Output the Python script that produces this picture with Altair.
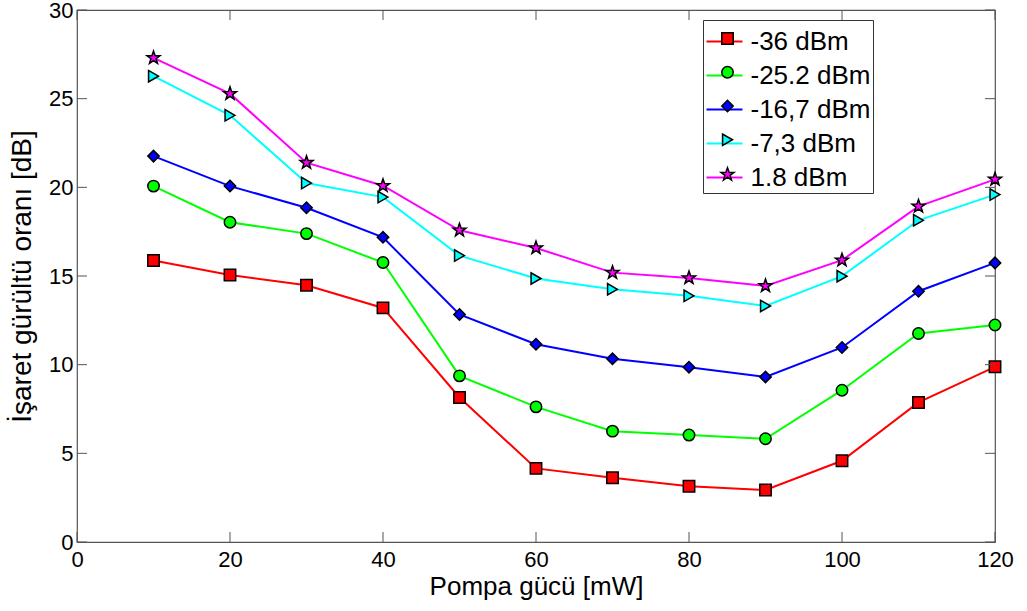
import altair as alt
import pandas as pd

# Pump power (mW) and signal-to-noise ratio (dB) for each input signal level
pump_mw = [10, 20, 30, 40, 50, 60, 70, 80, 90, 100, 110, 120]
snr_m36 = [15.87, 15.06, 14.48, 13.20, 8.15, 4.15, 3.62, 3.14, 2.93, 4.58, 7.87, 9.88]
snr_m25_2 = [20.07, 18.03, 17.39, 15.76, 9.37, 7.62, 6.25, 6.03, 5.82, 8.56, 11.76, 12.24]
snr_m16_7 = [21.76, 20.07, 18.85, 17.18, 12.83, 11.15, 10.33, 9.86, 9.31, 10.97, 14.14, 15.74]
snr_m7_3 = [26.27, 24.06, 20.24, 19.45, 16.15, 14.86, 14.25, 13.88, 13.31, 14.99, 18.14, 19.59]
snr_p1_8 = [27.30, 25.28, 21.39, 20.09, 17.58, 16.58, 15.19, 14.89, 14.44, 15.89, 18.93, 20.45]

series_labels = ["-36 dBm", "-25.2 dBm", "-16,7 dBm", "-7,3 dBm", "1.8 dBm"]
series_values = [snr_m36, snr_m25_2, snr_m16_7, snr_m7_3, snr_p1_8]
series_colors = ["#ff0000", "#00ff00", "#0000ff", "#00ffff", "#ff00ff"]

x_ticks = [0, 20, 40, 60, 80, 100, 120]
y_ticks = [0, 5, 10, 15, 20, 25, 30]

# five-pointed star, slightly larger than the built-in symbols
STAR = ("M0,-1.2L0.282,-0.389L1.141,-0.371L0.456,0.149L0.706,0.971L0,0.48"
        "L-0.706,0.971L-0.456,0.149L-1.141,-0.371L-0.282,-0.389Z")
series_shapes = ["square", "circle", "diamond", "triangle-right", STAR]

W, H = 918, 532
TICK_FONT = "Liberation Sans, Arial, sans-serif"
TEXT_FONT = "Liberation Sans, Arial, sans-serif"
FRAME = "#555555"
TICK_LEN = 10

rows = []
for i, (label, vals) in enumerate(zip(series_labels, series_values)):
    for p, v in zip(pump_mw, vals):
        rows.append({"pump": p, "snr": v, "series": label, "idx": i})
df = pd.DataFrame(rows)
idx_domain = list(range(len(series_labels)))

x_scale = alt.Scale(domain=[0, 120], nice=False, zero=False)
y_scale = alt.Scale(domain=[0, 30], nice=False, zero=False)
x_axis = alt.Axis(
    values=x_ticks, title="Pompa gücü [mW]", domain=False, ticks=False, grid=False,
    labelFont=TICK_FONT, labelFontSize=22, labelColor="black", labelPadding=7,
    labelFlush=False, titleFont=TEXT_FONT, titleFontSize=26, titleFontWeight="normal",
    titleColor="black", titlePadding=3,
)
y_axis = alt.Axis(
    values=y_ticks, title="İşaret gürültü oranı [dB]", domain=False, ticks=False, grid=False,
    labelFont=TICK_FONT, labelFontSize=22, labelColor="black", labelPadding=4,
    labelFlush=False, titleFont=TEXT_FONT, titleFontSize=28, titleFontWeight="normal",
    titleColor="black", titleX=-41,
)


def xq(field):
    return alt.X(f"{field}:Q", scale=x_scale, axis=x_axis)


def yq(field):
    return alt.Y(f"{field}:Q", scale=y_scale, axis=y_axis)


# Line samples with labels, boxed
line_legend = alt.Legend(
    orient="none", legendX=626, legendY=10, title=None,
    symbolType="stroke", symbolSize=1296, symbolStrokeWidth=2,
    labelFont=TEXT_FONT, labelFontSize=26, labelColor="black", labelOffset=7,
    strokeColor="#333333", padding=2.5, rowPadding=2, labelLimit=300,
)
# Marker samples drawn over the middle of each line sample
marker_legend = alt.Legend(
    orient="none", legendX=644, legendY=22, title=None,
    symbolSize=130, symbolStrokeColor="black", symbolStrokeWidth=1.5,
    symbolOpacity=1, symbolFillColor="white",
    labelExpr="''", labelFontSize=1, labelOffset=0,
    padding=0, rowPadding=14.75,
)

lines = alt.Chart(df).mark_line(strokeWidth=2).encode(
    x=xq("pump"),
    y=yq("snr"),
    color=alt.Color("series:N", sort=series_labels,
                    scale=alt.Scale(domain=series_labels, range=series_colors),
                    legend=line_legend),
)

points = alt.Chart(df).mark_point(filled=False, size=130, strokeWidth=1.5,
                                   opacity=1, fillOpacity=1).encode(
    x=xq("pump"),
    y=yq("snr"),
    shape=alt.Shape("idx:N", scale=alt.Scale(domain=idx_domain, range=series_shapes),
                    legend=marker_legend),
    fill=alt.Fill("idx:N", scale=alt.Scale(domain=idx_domain, range=series_colors),
                  legend=marker_legend),
    stroke=alt.value("black"),
)

# Inward-pointing ticks on all four sides of the frame
yt = pd.DataFrame({"v": y_ticks})
xt = pd.DataFrame({"v": x_ticks})
tick_left = alt.Chart(yt).mark_rule(color=FRAME, strokeWidth=1).encode(
    y=yq("v"), x=alt.value(0), x2=alt.value(TICK_LEN))
tick_right = alt.Chart(yt).mark_rule(color=FRAME, strokeWidth=1).encode(
    y=yq("v"), x=alt.value(W - TICK_LEN), x2=alt.value(W))
tick_bottom = alt.Chart(xt).mark_rule(color=FRAME, strokeWidth=1).encode(
    x=xq("v"), y=alt.value(H - TICK_LEN), y2=alt.value(H))
tick_top = alt.Chart(xt).mark_rule(color=FRAME, strokeWidth=1).encode(
    x=xq("v"), y=alt.value(0), y2=alt.value(TICK_LEN))

chart = alt.layer(
    lines, points, tick_left, tick_right, tick_bottom, tick_top
).properties(
    width=W, height=H,
    autosize=alt.AutoSizeParams(type="none"),
    padding={"left": 77, "top": 10, "right": 32, "bottom": 69},
    background="white",
).configure_view(
    stroke=FRAME, strokeWidth=1.2,
)

chart.save("out.html", embed_options={"renderer": "svg", "actions": False})
